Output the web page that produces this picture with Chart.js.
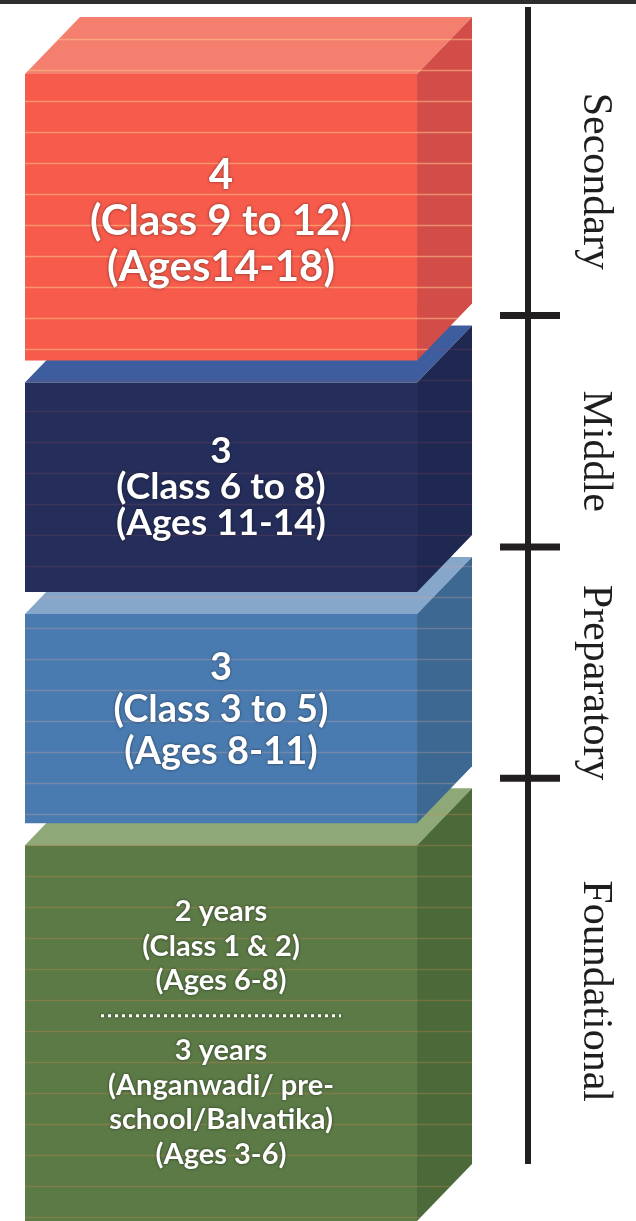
<!DOCTYPE html>
<html lang="en">
<head>
<meta charset="utf-8"/>
<title>School stages</title>
<script src="https://cdn.jsdelivr.net/npm/chart.js"></script>
<style>
  html, body {
    margin: 0;
    padding: 0;
    background: #fff;
  }
  canvas {
    display: block;
  }
</style>
</head>
<body>
<canvas id="grafico" width="636" height="1221"></canvas>

<script>
  // stages, listed top to bottom
  const stages = ['Secondary', 'Middle', 'Preparatory', 'Foundational'];
  const startAge = [14, 11, 8, 3];
  const endAge = [18, 14, 11, 8];
  const boundaryAges = [14, 11, 8];

  // text on the front of each block ('---' = dotted separator)
  const blockText = [
    ['4', '(Class 9 to 12)', '(Ages14-18)'],
    ['3', '(Class 6 to 8)', '(Ages 11-14)'],
    ['3', '(Class 3 to 5)', '(Ages 8-11)'],
    ['2 years', '(Class 1 & 2)', '(Ages 6-8)', '---', '3 years', '(Anganwadi/ pre-', 'school/Balvatika)', '(Ages 3-6)']
  ];

  const frontColors = ['#f65b4b', '#252e5a', '#4a7bb0', '#5b7a46'];
  const topColors = ['#f47f6e', '#3e5d9f', '#86a7ca', '#8ea877'];
  const sideColors = ['#d24c48', '#1f2850', '#3d6892', '#4b6939'];
  const stripeColors = ['rgba(255,196,140,0.55)', 'rgba(140,70,100,0.25)', 'rgba(210,170,160,0.3)', 'rgba(210,140,90,0.3)'];
  const textSize = [42, 37, 38, 29];
  const lineHeight = [46, 36, 42, 34.7];
  const textShift = [4, 0, -9, 0];

  const DX = 55, DY = 57, GAP_T = 10, GAP_B = 12;
  const last = stages.length - 1;

  function frontBox(chart, i) {
    const bar = chart.getDatasetMeta(i).data[0];
    const p = bar.getProps(['x', 'y', 'base', 'width'], true);
    return {
      left: p.x - p.width / 2,
      right: p.x + p.width / 2,
      top: Math.min(p.y, p.base) + GAP_T,
      bottom: Math.max(p.y, p.base) - (i === last ? 0 : GAP_B),
      cx: p.x
    };
  }

  function outline(ctx, b) {
    ctx.beginPath();
    ctx.moveTo(b.left, b.bottom);
    ctx.lineTo(b.left, b.top);
    ctx.lineTo(b.left + DX, b.top - DY);
    ctx.lineTo(b.right + DX, b.top - DY);
    ctx.lineTo(b.right + DX, b.bottom - DY);
    ctx.lineTo(b.right, b.bottom);
    ctx.closePath();
  }

  const blocos = {
    id: 'blocos',
    beforeDatasetDraw(chart, args) {
      const i = args.index;
      const b = frontBox(chart, i);
      const ctx = chart.ctx;
      ctx.save();
      // top face
      ctx.fillStyle = topColors[i];
      ctx.beginPath();
      ctx.moveTo(b.left, b.top);
      ctx.lineTo(b.right, b.top);
      ctx.lineTo(b.right + DX, b.top - DY);
      ctx.lineTo(b.left + DX, b.top - DY);
      ctx.closePath();
      ctx.fill();
      // right face
      ctx.fillStyle = sideColors[i];
      ctx.beginPath();
      ctx.moveTo(b.right, b.top);
      ctx.lineTo(b.right + DX, b.top - DY);
      ctx.lineTo(b.right + DX, b.bottom - DY);
      ctx.lineTo(b.right, b.bottom);
      ctx.closePath();
      ctx.fill();
      ctx.restore();
    },
    afterDatasetDraw(chart, args) {
      const i = args.index;
      const b = frontBox(chart, i);
      const ctx = chart.ctx;

      // faint scan stripes
      ctx.save();
      outline(ctx, b);
      ctx.clip();
      ctx.strokeStyle = stripeColors[i];
      ctx.lineWidth = 1.5;
      for (let y = 8; y < chart.height; y += 31) {
        ctx.beginPath();
        ctx.moveTo(0, y + 0.5);
        ctx.lineTo(chart.width, y + 0.5);
        ctx.stroke();
      }
      ctx.restore();

      // text
      const lines = blockText[i];
      const lh = lineHeight[i];
      let y = (b.top + b.bottom) / 2 + textShift[i] - (lines.length - 1) * lh / 2;
      ctx.save();
      ctx.fillStyle = '#fff';
      ctx.strokeStyle = '#fff';
      ctx.textAlign = 'center';
      ctx.textBaseline = 'middle';
      ctx.shadowColor = 'rgba(0,0,0,0.55)';
      ctx.shadowBlur = 3;
      ctx.font = 'bold ' + textSize[i] + 'px Lato, "Open Sans", sans-serif';
      lines.forEach(t => {
        if (t === '---') {
          ctx.lineWidth = 3;
          ctx.setLineDash([3, 4]);
          ctx.beginPath();
          ctx.moveTo(b.cx - 120, y);
          ctx.lineTo(b.cx + 120, y);
          ctx.stroke();
          ctx.setLineDash([]);
        } else {
          ctx.fillText(t, b.cx, y);
        }
        y += lh;
      });
      ctx.restore();
    },
    afterDraw(chart) {
      const ctx = chart.ctx;
      const ys = chart.scales.y;
      const ax = 528;
      ctx.save();
      // top rule
      ctx.fillStyle = '#2e2e2e';
      ctx.fillRect(0, 0, chart.width, 4);

      // stage axis on the right
      ctx.strokeStyle = '#231f20';
      ctx.lineWidth = 6;
      ctx.beginPath();
      ctx.moveTo(ax, ys.getPixelForValue(Math.max(...endAge)) - DY);
      ctx.lineTo(ax, ys.getPixelForValue(Math.min(...startAge)) - DY);
      ctx.stroke();
      ctx.lineWidth = 7;
      boundaryAges.forEach(a => {
        const y = ys.getPixelForValue(a) - DY;
        ctx.beginPath();
        ctx.moveTo(ax - 28, y);
        ctx.lineTo(ax + 32, y);
        ctx.stroke();
      });

      // stage names, rotated
      ctx.fillStyle = '#1e1e1e';
      ctx.font = '42px "Liberation Serif", "DejaVu Serif", serif';
      ctx.textAlign = 'center';
      ctx.textBaseline = 'alphabetic';
      stages.forEach((s, i) => {
        const cy = (ys.getPixelForValue(startAge[i]) + ys.getPixelForValue(endAge[i])) / 2 - DY + 20;
        ctx.save();
        ctx.translate(584, cy);
        ctx.rotate(Math.PI / 2);
        ctx.fillText(s, 0, 0);
        ctx.restore();
      });
      ctx.restore();
    }
  };

  const ctxGrafico = document.getElementById('grafico').getContext('2d');

  new Chart(ctxGrafico, {
    type: 'bar',
    data: {
      labels: ['Stages'],
      datasets: stages.map((s, i) => ({
        label: s,
        data: [[startAge[i], endAge[i]]],
        backgroundColor: frontColors[i],
        borderColor: 'rgba(0,0,0,0)',
        borderWidth: { top: GAP_T, bottom: i === last ? 0 : GAP_B, left: 0, right: 0 },
        borderSkipped: false,
        grouped: false,
        categoryPercentage: 1,
        barPercentage: 0.887,
        clip: false
      }))
    },
    options: {
      responsive: false,
      animation: false,
      layout: { padding: { top: 64, right: 194, bottom: 0, left: 0 } },
      plugins: {
        legend: { display: false },
        tooltip: { enabled: false }
      },
      scales: {
        x: { display: false },
        y: { display: false, min: Math.min(...startAge), max: Math.max(...endAge) }
      }
    },
    plugins: [blocos]
  });
</script>
</body>
</html>
